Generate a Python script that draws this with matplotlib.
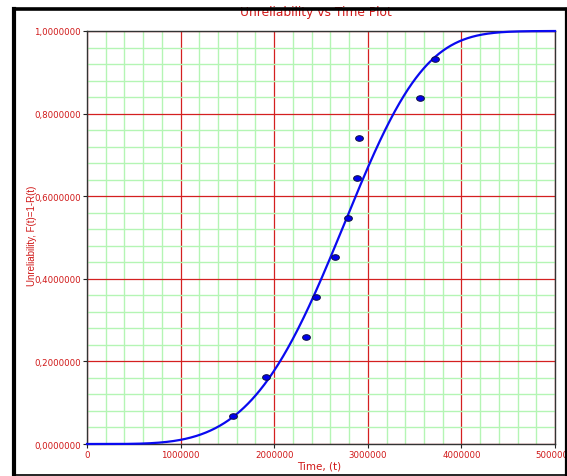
import numpy as np
import matplotlib
matplotlib.use("Agg")
import matplotlib.pyplot as plt
from matplotlib.lines import Line2D
from matplotlib.ticker import FixedLocator, MultipleLocator, FuncFormatter

# Failure times and their median ranks
times = [1560000, 1912000, 2340000, 2447000, 2650000, 2790000, 2885000, 2906000, 3558000, 3718000]
unreliability = [0.0670, 0.1632, 0.2596, 0.3558, 0.4519, 0.5481, 0.6442, 0.7404, 0.8368, 0.9330]

# Fitted 2-parameter Weibull model
beta = 4.27
eta = 2.93e6

x_ticks = [0, 1000000, 2000000, 3000000, 4000000, 5000000]
y_ticks = [0.0, 0.2, 0.4, 0.6, 0.8, 1.0]

RED = "#d01818"
W, H = 567, 477

fig = plt.figure(figsize=(W / 100, H / 100), dpi=100)
ax = fig.add_axes([87 / W, 1 - 445 / H, (555 - 87) / W, (445 - 32) / H])

ax.set_xlim(0, 5000000)
ax.set_ylim(0, 1.0)

ax.xaxis.set_major_locator(FixedLocator(x_ticks))
ax.yaxis.set_major_locator(FixedLocator(y_ticks))
ax.xaxis.set_minor_locator(MultipleLocator(200000))
ax.yaxis.set_minor_locator(MultipleLocator(0.04))

ax.grid(which="minor", color="#b4f5b4", linewidth=1.0, zorder=0)
ax.grid(which="major", color="#d42020", linewidth=0.9, zorder=0.5)
ax.set_axisbelow(True)

ax.xaxis.set_major_formatter(FuncFormatter(lambda v, p: f"{int(round(v))}"))
ax.yaxis.set_major_formatter(FuncFormatter(lambda v, p: f"{v:.7f}".replace(".", ",")))
ax.tick_params(axis="both", which="major", length=3, width=0.8, colors="#222222",
               labelcolor=RED, labelsize=6.2, pad=1.5)
ax.tick_params(axis="both", which="minor", length=0)

for side in ["left", "bottom", "top", "right"]:
    ax.spines[side].set_color("#333333")
    ax.spines[side].set_linewidth(1.0)

# Model curve
t = np.linspace(0, 5000000, 600)
F = 1 - np.exp(-(t / eta) ** beta)
ax.plot(t, F, color="#0a0af0", linewidth=1.6, zorder=3, clip_on=False)

# Data points as flattened ellipses
theta = np.linspace(0, 2 * np.pi, 40)
ellipse = np.column_stack([np.cos(theta), 0.72 * np.sin(theta)])
ax.plot(times, unreliability, linestyle="none", marker=ellipse, markersize=5.6,
        markerfacecolor="#0000ee", markeredgecolor="#101040", markeredgewidth=0.7, zorder=4)

fig.text(0.557, 1 - 6 / H, "Unreliability vs Time Plot", color=RED, fontsize=8.8,
         ha="center", va="top")
fig.text(319 / W, 1 - 467 / H, "Time, (t)", color=RED, fontsize=7.5,
         ha="center", va="center")
fig.text(32 / W, 1 - 236 / H, "Unreliability, F(t)=1-R(t)", color=RED, fontsize=7,
         rotation=90, ha="center", va="center",
         family=["Liberation Sans", "DejaVu Sans"])

# Outer frame of the chart panel
def frame_line(x0, y0, x1, y1, lw):
    fig.add_artist(Line2D([x0 / W, x1 / W], [1 - y0 / H, 1 - y1 / H], color="black",
                          linewidth=lw, solid_capstyle="projecting", zorder=20))

frame_line(14, 9.8, 565.5, 9.8, 2.6)
frame_line(14, 9.8, 14, 476, 3.0)
frame_line(565.8, 9.8, 565.8, 476, 1.6)
frame_line(14, 476, 565.8, 476, 1.2)

fig.savefig("out.png", dpi=100, facecolor="white")
